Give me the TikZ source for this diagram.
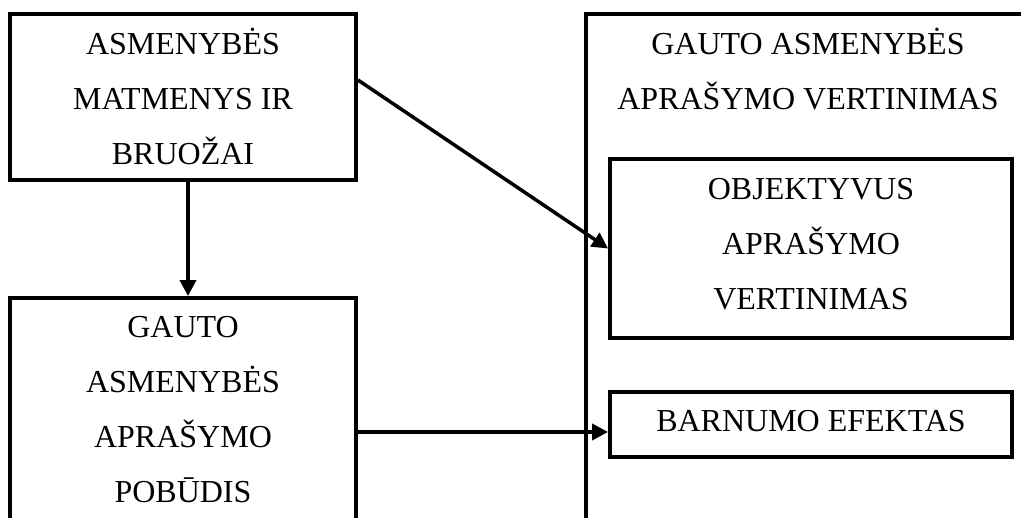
\documentclass[tikz,border=0pt]{standalone}
\usepackage{fontspec}
\setmainfont{Liberation Serif}
\usetikzlibrary{arrows.meta}
\tikzset{
  box/.style={draw=black, line width=3.8pt, inner sep=0pt, fill=none},
  txt/.style={anchor=base, inner sep=0pt, font=\fontsize{32}{38}\selectfont},
  arr/.style={draw=black, line width=3.5pt, -{Triangle[length=16pt,width=16pt]}}
}
\begin{document}
\begin{tikzpicture}[x=1pt,y=-1pt]
\useasboundingbox (0,0) rectangle (1021,518);
\clip (0,0) rectangle (1021,518);
% boxes
\node[box, minimum width=346pt, minimum height=166pt] (b1) at (183,97) {};
\node[box, minimum width=346pt, minimum height=268pt] (b2) at (183,432) {};
\node[box, minimum width=470pt, minimum height=560pt] (big) at (821,294) {};
\node[box, minimum width=402pt, minimum height=179pt] (obj) at (811,248.5) {};
\node[box, minimum width=402pt, minimum height=65pt] (barn) at (811,424.5) {};
% texts
\node[txt] (t11) at (183,55) {ASMENYBĖS};
\node[txt] (t12) at (183,110) {MATMENYS IR};
\node[txt] (t13) at (183,165) {BRUOŽAI};
\node[txt] (t21) at (183,338) {GAUTO};
\node[txt] (t22) at (183,393) {ASMENYBĖS};
\node[txt] (t23) at (183,448) {APRAŠYMO};
\node[txt] (t24) at (183,503) {POBŪDIS};
\node[txt] (t31) at (808,55) {GAUTO ASMENYBĖS};
\node[txt] (t32) at (808,110) {APRAŠYMO VERTINIMAS};
\node[txt] (t41) at (811,200) {OBJEKTYVUS};
\node[txt] (t42) at (811,255) {APRAŠYMO};
\node[txt] (t43) at (811,310) {VERTINIMAS};
\node[txt] (t51) at (811,432) {BARNUMO EFEKTAS};
% connectors
\draw[arr] ([xshift=5pt]b1.south) -- ([xshift=5pt]b2.north);
\draw[arr] ([yshift=17pt]b1.east) -- (obj.west);
\draw[arr] (b2.east) -- (b2.east -| barn.west);
\end{tikzpicture}
\end{document}
